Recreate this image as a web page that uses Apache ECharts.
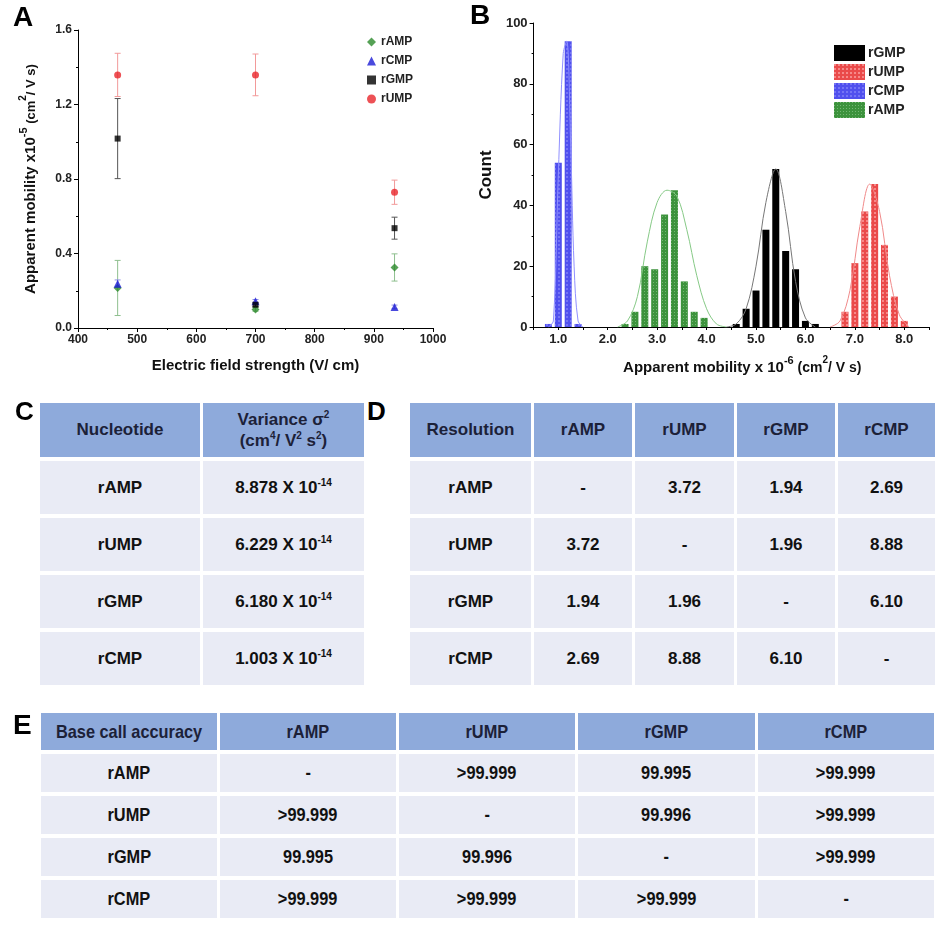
<!DOCTYPE html>
<html>
<head>
<meta charset="utf-8">
<script src="https://cdn.jsdelivr.net/npm/echarts@6/dist/echarts.min.js"></script>
<style>
body{margin:0;background:#fff;font-family:'Liberation Sans',Arial,sans-serif;}
#wrap{position:relative;width:948px;height:937px;overflow:hidden;}
#chartA{position:absolute;left:0;top:0;width:470px;height:390px;}
#chartB{position:absolute;left:470px;top:0;width:478px;height:390px;}
.tag{position:absolute;font-weight:bold;color:#000;line-height:1;}
table.tbl{position:absolute;border-collapse:separate;border-spacing:3px 4px;table-layout:fixed;}
table.tbl th{background:#8eaadb;color:#1c2138;font-weight:bold;font-size:17px;text-align:center;padding:0;line-height:1.25;}
table.tbl td{background:#e9ebf5;color:#111;font-weight:bold;font-size:17px;text-align:center;padding:0;}
table.tbl sup{font-size:10px;vertical-align:7px;line-height:0;}
table.narrow th, table.narrow td{font-size:19px;white-space:nowrap;}
table.narrow span{display:inline-block;transform:scaleX(0.86);}
</style>
</head>
<body>
<div id="wrap">
  <div id="chartA"></div>
  <div id="chartB"></div>
  <div class="tag" style="left:13px;top:3px;font-size:28px;">A</div>
  <div class="tag" style="left:470px;top:1px;font-size:28px;">B</div>
  <div class="tag" style="left:15px;top:398px;font-size:26px;">C</div>
  <div class="tag" style="left:367px;top:398px;font-size:26px;">D</div>
  <div class="tag" style="left:13px;top:711px;font-size:28px;">E</div>
  <table id="tblC" class="tbl" style="left:37px;top:399px;"></table>
  <table id="tblD" class="tbl" style="left:407px;top:399px;"></table>
  <table id="tblE" class="tbl narrow" style="left:38px;top:709px;"></table>
</div>
<script>
// panel A: mobility vs field strength
var fieldStrength = [467, 700, 935];
var ampMob = [0.215, 0.100, 0.325];
var ampErr = [0.148, 0.010, 0.073];
var cmpMob = [0.238, 0.143, 0.113];
var cmpErr = [0.020, 0.010, 0.010];
var gmpMob = [1.017, 0.125, 0.536];
var gmpErr = [0.215, 0.010, 0.059];
var umpMob = [1.359, 1.359, 0.729];
var umpErr = [0.116, 0.112, 0.065];

// panel B: histogram bins (x 10^-6) and counts
var cmpBins = [0.8, 1.0, 1.2, 1.4];
var cmpCount = [1, 54, 94, 1];
var ampBins = [2.35, 2.55, 2.75, 2.95, 3.15, 3.35, 3.55, 3.75, 3.95];
var ampCount = [1, 5, 20, 19, 37, 45, 15, 5, 3];
var gmpBins = [4.6, 4.8, 5.0, 5.2, 5.4, 5.6, 5.8, 6.0, 6.2];
var gmpCount = [1, 6, 12, 32, 52, 25, 19, 2, 1];
var umpBins = [6.8, 7.0, 7.2, 7.4, 7.6, 7.8, 8.0];
var umpCount = [5, 21, 38, 47, 27, 10, 2];

// gaussian fit curves
var cmpFitX = [0.8, 0.9, 1.0, 1.1, 1.17, 1.25, 1.32, 1.4, 1.5];
var cmpFitY = [0, 2, 50, 90, 94, 60, 20, 2, 0];
var ampFitX = [2.2, 2.4, 2.6, 2.8, 3.0, 3.2, 3.4, 3.6, 3.8, 4.0, 4.2, 4.4];
var ampFitY = [0, 2, 10, 28, 41, 45, 43, 32, 17, 6, 1, 0];
var gmpFitX = [4.4, 4.6, 4.8, 5.0, 5.2, 5.4, 5.6, 5.8, 6.0, 6.2];
var gmpFitY = [0, 1, 6, 20, 41, 52, 38, 15, 3, 0];
var umpFitX = [6.5, 6.7, 6.9, 7.1, 7.3, 7.5, 7.7, 7.9, 8.1];
var umpFitY = [0, 2, 12, 33, 47, 38, 17, 4, 0];

// tables
var nucleotides = ['rAMP', 'rUMP', 'rGMP', 'rCMP'];
var varianceVals = ['8.878', '6.229', '6.180', '1.003'];
var resolution = [
  ['-', '3.72', '1.94', '2.69'],
  ['3.72', '-', '1.96', '8.88'],
  ['1.94', '1.96', '-', '6.10'],
  ['2.69', '8.88', '6.10', '-']
];
var accuracy = [
  ['-', '>99.999', '99.995', '>99.999'],
  ['>99.999', '-', '99.996', '>99.999'],
  ['99.995', '99.996', '-', '>99.999'],
  ['>99.999', '>99.999', '>99.999', '-']
];

var FONT = 'Liberation Sans, Arial, sans-serif';

function pairs(xs, ys){
  var out = [];
  for(var i=0;i<xs.length;i++) out.push([xs[i], ys[i]]);
  return out;
}

function errSeries(name, mob, err, color){
  var d = [];
  for(var i=0;i<mob.length;i++) d.push([fieldStrength[i], mob[i]-err[i], mob[i]+err[i]]);
  return {
    type:'custom', name:name, z:1, data:d,
    renderItem:function(params, api){
      var lo = api.coord([api.value(0), api.value(1)]);
      var hi = api.coord([api.value(0), api.value(2)]);
      var w = 3;
      var st = {stroke:color, lineWidth:1};
      return {type:'group', children:[
        {type:'line', shape:{x1:lo[0], y1:lo[1], x2:hi[0], y2:hi[1]}, style:st},
        {type:'line', shape:{x1:lo[0]-w, y1:lo[1], x2:lo[0]+w, y2:lo[1]}, style:st},
        {type:'line', shape:{x1:hi[0]-w, y1:hi[1], x2:hi[0]+w, y2:hi[1]}, style:st}
      ]};
    }
  };
}

function dotSeries(name, mob, symbol, size, color){
  return {
    type:'scatter', name:name, z:3, symbol:symbol, symbolSize:size,
    itemStyle:{color:color},
    data:pairs(fieldStrength, mob)
  };
}

var axisBase = {
  axisLine:{show:true, lineStyle:{color:'#000', width:1}},
  splitLine:{show:false}
};

var chartA = echarts.init(document.getElementById('chartA'));
chartA.setOption({
  animation:false,
  textStyle:{fontFamily:FONT},
  grid:{left:78, top:30, width:355, height:298},
  legend:{
    orient:'vertical', left:362, top:31, itemWidth:9, itemHeight:9, itemGap:7,
    data:['rAMP', 'rCMP', 'rGMP', 'rUMP'],
    textStyle:{fontSize:12, fontWeight:'bold', color:'#222', fontFamily:FONT}
  },
  xAxis:{
    type:'value', min:400, max:1000, interval:100,
    axisLine:axisBase.axisLine, splitLine:axisBase.splitLine,
    axisTick:{show:true, length:4, lineStyle:{color:'#000'}},
    minorTick:{show:true, splitNumber:2, length:2, lineStyle:{color:'#000'}},
    axisLabel:{color:'#222', fontWeight:'bold', fontSize:12, margin:6,
      formatter:function(v){return String(v);}},
    name:'Electric field strength (V/ cm)', nameLocation:'middle', nameGap:30,
    nameTextStyle:{fontSize:15, fontWeight:'bold', color:'#111'}
  },
  yAxis:{
    type:'value', min:0, max:1.6, interval:0.4,
    axisLine:axisBase.axisLine, splitLine:axisBase.splitLine,
    axisTick:{show:true, length:4, lineStyle:{color:'#000'}},
    minorTick:{show:true, splitNumber:2, length:2, lineStyle:{color:'#000'}},
    axisLabel:{color:'#222', fontWeight:'bold', fontSize:12, margin:6,
      formatter:function(v){return v.toFixed(1);}},
    name:'{m|Apparent mobility x10}{sp|-5}{s| (cm}{sp2|2}{s|/ V s)}',
    nameLocation:'middle', nameGap:40,
    nameTextStyle:{
      rich:{
        m:{fontSize:15, fontWeight:'bold', color:'#111', verticalAlign:'bottom', lineHeight:20},
        sp:{fontSize:11, fontWeight:'bold', color:'#111', verticalAlign:'top', lineHeight:20},
        s:{fontSize:13, fontWeight:'bold', color:'#111', verticalAlign:'bottom', lineHeight:20},
        sp2:{fontSize:10, fontWeight:'bold', color:'#111', verticalAlign:'top', lineHeight:20}
      }
    }
  },
  series:[
    errSeries('rUMP err', umpMob, umpErr, '#f29a9a'),
    errSeries('rGMP err', gmpMob, gmpErr, '#555555'),
    errSeries('rAMP err', ampMob, ampErr, '#8fbf8f'),
    errSeries('rCMP err', cmpMob, cmpErr, '#8f8fe6'),
    dotSeries('rAMP', ampMob, 'diamond', 8, '#2a8a2a'),
    dotSeries('rCMP', cmpMob, 'triangle', 8, '#1c1cd4'),
    dotSeries('rGMP', gmpMob, 'rect', 6, '#000000'),
    dotSeries('rUMP', umpMob, 'circle', 7, '#e8262b')
  ]
});

function barSeries(name, bins, counts, color, decal){
  var s = {
    type:'bar', name:name, barWidth:7, barGap:'-100%', z:2,
    itemStyle:{color:color},
    data:pairs(bins, counts)
  };
  if(decal) s.itemStyle.decal = decal;
  return s;
}
function fitSeries(name, xs, ys, color){
  return {
    type:'line', name:name, smooth:0.35, showSymbol:false, z:3,
    lineStyle:{color:color, width:1},
    data:pairs(xs, ys)
  };
}

var chartB = echarts.init(document.getElementById('chartB'));
chartB.setOption({
  animation:false,
  textStyle:{fontFamily:FONT},
  grid:{left:53, top:23, width:406, height:304},
  legend:{
    orient:'vertical', left:359, top:40, itemWidth:31, itemHeight:16, itemGap:3,
    icon:'rect',
    data:['rGMP', 'rUMP', 'rCMP', 'rAMP'],
    textStyle:{fontSize:14, fontWeight:'bold', color:'#222', fontFamily:FONT, padding:[0,0,0,-2]}
  },
  xAxis:{
    type:'value', min:0.5, max:8.5, interval:0.5,
    axisLine:axisBase.axisLine, splitLine:axisBase.splitLine,
    axisTick:{show:true, length:3, lineStyle:{color:'#000'}},
    axisLabel:{color:'#222', fontWeight:'bold', fontSize:13, margin:6,
      formatter:function(v){return (Math.abs(v - Math.round(v)) < 1e-6 && v > 0.6 && v < 8.4) ? v.toFixed(1) : '';}},
    name:'{m|Apparent mobility x 10}{sp|-6}{s| (cm}{sp2|2}{s|/ V s)}',
    nameLocation:'middle', nameGap:28,
    nameTextStyle:{
      padding:[0,0,0,22],
      rich:{
        m:{fontSize:15, fontWeight:'bold', color:'#111', verticalAlign:'bottom', lineHeight:20},
        sp:{fontSize:11, fontWeight:'bold', color:'#111', verticalAlign:'top', lineHeight:20},
        s:{fontSize:14, fontWeight:'bold', color:'#111', verticalAlign:'bottom', lineHeight:20},
        sp2:{fontSize:10, fontWeight:'bold', color:'#111', verticalAlign:'top', lineHeight:20}
      }
    }
  },
  yAxis:{
    type:'value', min:0, max:100, interval:20,
    axisLine:axisBase.axisLine, splitLine:axisBase.splitLine,
    axisTick:{show:true, length:4, lineStyle:{color:'#000'}},
    minorTick:{show:true, splitNumber:2, length:2, lineStyle:{color:'#000'}},
    axisLabel:{color:'#222', fontWeight:'bold', fontSize:13, margin:6},
    name:'Count', nameLocation:'middle', nameGap:28,
    nameTextStyle:{fontSize:17, fontWeight:'bold', color:'#111'}
  },
  series:[
    barSeries('rGMP', gmpBins, gmpCount, '#000000'),
    barSeries('rUMP', umpBins, umpCount, '#ea4a4a',
      {symbol:'rect', symbolSize:1, color:'rgba(255,190,190,0.55)', dashArrayX:[2,2], dashArrayY:[2,2]}),
    barSeries('rCMP', cmpBins, cmpCount, '#5050ee',
      {symbol:'rect', symbolSize:1, color:'rgba(170,170,255,0.4)', dashArrayX:[2,2], dashArrayY:[2,2]}),
    barSeries('rAMP', ampBins, ampCount, '#3d933d',
      {symbol:'rect', symbolSize:1, color:'rgba(170,220,170,0.5)', dashArrayX:[1,2], dashArrayY:[1,2]}),
    fitSeries('rGMP fit', gmpFitX, gmpFitY, '#777777'),
    fitSeries('rUMP fit', umpFitX, umpFitY, '#f08a8a'),
    fitSeries('rCMP fit', cmpFitX, cmpFitY, '#9090ff'),
    fitSeries('rAMP fit', ampFitX, ampFitY, '#86c986')
  ]
});

// tables C, D, E
function sup(t){ return '<sup>' + t + '</sup>'; }

function fillTable(id, colWidths, headH, rowH, header, rows, wrap){
  var open = wrap ? '<span>' : '', close = wrap ? '</span>' : '';
  var html = ['<colgroup>'];
  for(var c=0;c<colWidths.length;c++) html.push('<col style="width:' + colWidths[c] + 'px">');
  html.push('</colgroup><tr style="height:' + headH + 'px">');
  for(var h=0;h<header.length;h++) html.push('<th>' + open + header[h] + close + '</th>');
  html.push('</tr>');
  for(var r=0;r<rows.length;r++){
    html.push('<tr style="height:' + rowH + 'px">');
    for(var k=0;k<rows[r].length;k++) html.push('<td>' + open + rows[r][k] + close + '</td>');
    html.push('</tr>');
  }
  document.getElementById(id).innerHTML = html.join('');
}

var rowsC = [];
for(var i=0;i<nucleotides.length;i++) rowsC.push([nucleotides[i], varianceVals[i] + ' X 10' + sup('-14')]);
fillTable('tblC', [160, 161], 54, 53,
  ['Nucleotide', 'Variance \u03c3' + sup('2') + '<br>(cm' + sup('4') + '/ V' + sup('2') + ' s' + sup('2') + ')'],
  rowsC, false);

var rowsD = [];
for(var i=0;i<nucleotides.length;i++) rowsD.push([nucleotides[i]].concat(resolution[i]));
fillTable('tblD', [121, 98, 99, 98, 97], 54, 53, ['Resolution'].concat(nucleotides), rowsD, false);

var rowsE = [];
for(var i=0;i<nucleotides.length;i++) rowsE.push([nucleotides[i]].concat(accuracy[i]));
fillTable('tblE', [176, 176, 176, 177, 176], 37, 38, ['Base call accuracy'].concat(nucleotides), rowsE, true);
</script>
</body>
</html>
